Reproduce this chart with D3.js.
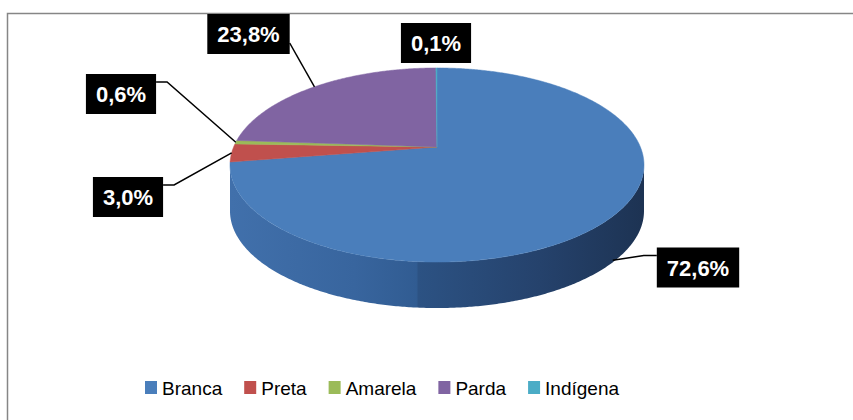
<!DOCTYPE html>
<html><head><meta charset="utf-8">
<script src="https://cdn.jsdelivr.net/npm/d3@7"></script>
<style>html,body{margin:0;padding:0;background:#fff;}svg{display:block;}</style>
</head><body>
<svg id="chart" width="853" height="420"></svg>
<script>
const categories = ["Branca", "Preta", "Amarela", "Parda", "Indígena"];
const values = [72.6, 3.0, 0.6, 23.8, 0.1];
const labels = ["72,6%", "3,0%", "0,6%", "23,8%", "0,1%"];
const colors = ["#4a7ebb", "#c0504d", "#9bbb59", "#8064a2", "#4bacc6"];

// layout (not data)
const boxCenters = [[698, 267.5], [128, 197], [121, 94], [248.5, 34], [436, 43]];
const hasLeader = [true, true, true, true, false];
const anchorDrop = [44, 0, 0, 0, 0];

const svg = d3.select("#chart");
svg.append("rect").attr("x", 7.5).attr("y", 13.5).attr("width", 900).attr("height", 500)
  .attr("fill", "#fff").attr("stroke", "#868686").attr("stroke-width", 1.5);

const cx = 437, cy = 147, A = 203.4, B = 93.7, p = 0.1856, depth = 46;
function proj(t, dy) {
  const u = Math.sin(t), v = -Math.cos(t), d = 1 - p * v;
  return [cx + A * u / d, cy + B * v / d + (dy || 0)];
}
function arcPts(a0, a1, dy) {
  const n = Math.max(2, Math.ceil(Math.abs(a1 - a0) / (Math.PI / 360)));
  const pts = [];
  for (let i = 0; i <= n; i++) pts.push(proj(a0 + (a1 - a0) * i / n, dy));
  return pts;
}
const pie = d3.pie().sort(null).value(d => d)(values);

const defs = svg.append("defs");
const g1 = defs.append("linearGradient").attr("id", "sideBlue")
  .attr("gradientUnits", "userSpaceOnUse").attr("x1", 231).attr("x2", 643).attr("y1", 0).attr("y2", 0);
[[0, "#4170ab"], [0.3, "#38659e"], [0.45, "#315c92"], [0.455, "#2c5283"], [0.75, "#25426c"], [1, "#1d3353"]]
  .forEach(s => g1.append("stop").attr("offset", s[0]).attr("stop-color", s[1]));

const tL = Math.acos(-p), tR = 2 * Math.PI - Math.acos(-p);
const line = d3.line();
// sides
pie.forEach((s, i) => {
  const a0 = Math.max(s.startAngle, tL), a1 = Math.min(s.endAngle, tR);
  if (a1 <= a0) return;
  const top = arcPts(a0, a1, 0), bot = arcPts(a1, a0, depth);
  svg.append("path").attr("d", line(top.concat(bot)) + "Z")
    .attr("fill", i === 0 ? "url(#sideBlue)" : d3.color(colors[i]).darker(0.8));
});
// tops
pie.forEach((s, i) => {
  const pts = [[cx, cy]].concat(arcPts(s.startAngle, s.endAngle, 0));
  svg.append("path").attr("d", line(pts) + "Z").attr("fill", colors[i])
    .attr("stroke", colors[i]).attr("stroke-width", 0.5);
});

// labels
const bh = 40;
pie.forEach((s, i) => {
  const [bx, by] = boxCenters[i];
  const t = svg.append("text").attr("x", bx).attr("y", by + 8).attr("text-anchor", "middle")
    .attr("font-family", "Liberation Sans, Arial, sans-serif").attr("font-weight", "bold")
    .attr("font-size", 22).attr("fill", "#fff").text(labels[i]);
  const tw = t.node().getComputedTextLength();
  const bw = tw + 20;
  svg.insert("rect", "text").attr("x", bx - bw / 2).attr("y", by - bh / 2).attr("width", bw).attr("height", bh).attr("fill", "#000");
  if (hasLeader[i]) {
    const mid = (s.startAngle + s.endAngle) / 2;
    const an = proj(mid, anchorDrop[i]);
    const left = an[0] < bx;
    const ex = left ? bx - bw / 2 : bx + bw / 2;
    const ey = by - bh / 2 + 8;
    let pts;
    if (i === 3) pts = [[ex, by + 9], an];
    else pts = [[ex, ey], [ex + (left ? -13 : 11), ey], an];
    svg.append("path").attr("d", line(pts)).attr("fill", "none").attr("stroke", "#000").attr("stroke-width", 1.5);
  }
});

// legend
const leg = svg.append("g");
let lx = 145;
categories.forEach((c, i) => {
  leg.append("rect").attr("x", lx).attr("y", 381).attr("width", 12).attr("height", 13).attr("fill", colors[i]);
  const t = leg.append("text").attr("x", lx + 17).attr("y", 395)
    .attr("font-family", "Liberation Sans, Arial, sans-serif")
    .attr("font-size", 19).attr("fill", "#000").text(c);
  lx += 17 + t.node().getComputedTextLength() + 22;
});
</script>
</body></html>
